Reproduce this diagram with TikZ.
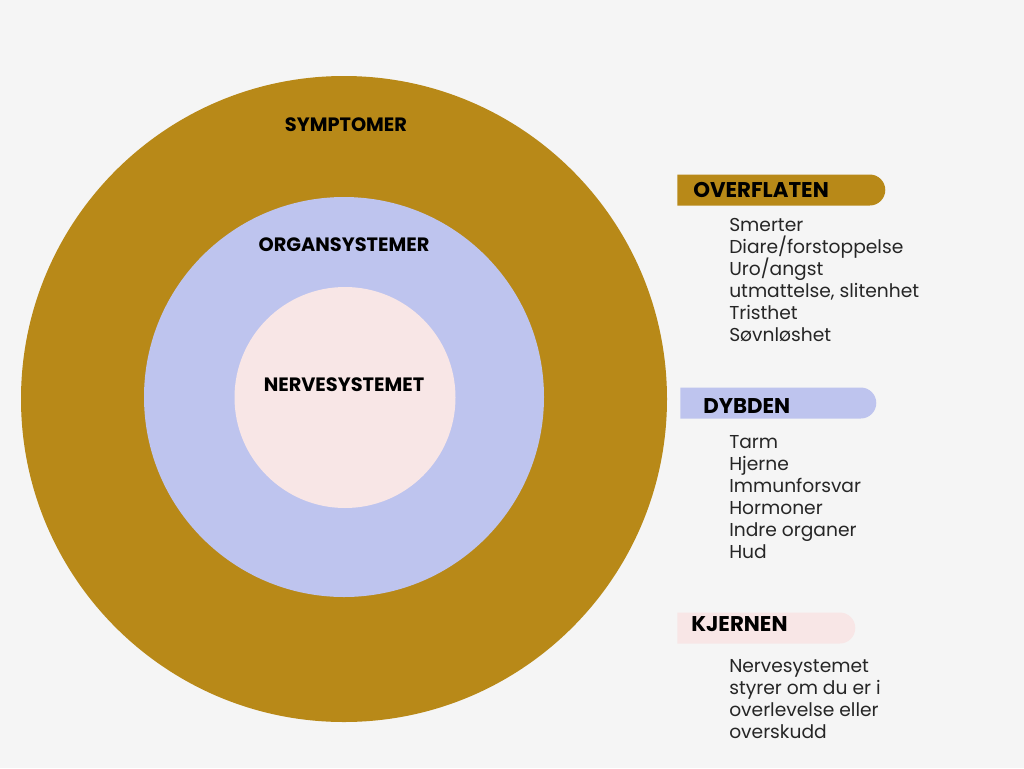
\documentclass[tikz,border=0pt]{standalone}
\usepackage{fontspec}
\setmainfont{Poppins}
\usetikzlibrary{shapes.misc}

\definecolor{gold}{HTML}{B88918}
\definecolor{lavender}{HTML}{BEC4EE}
\definecolor{blush}{HTML}{F8E6E6}
\definecolor{paper}{HTML}{F5F5F5}

\begin{document}
\begin{tikzpicture}[
        x=0.75pt, y=-0.75pt,
        ring/.style={circle, inner sep=0pt},
        ringlabel/.style={font=\bfseries\fontsize{14.5}{16}\selectfont, inner sep=0pt},
        tab/.style={rounded rectangle, rounded rectangle left arc=none, inner sep=0pt,
            minimum height=23.25pt, anchor=west},
        heading/.style={anchor=west, inner sep=0pt, font=\bfseries\fontsize{16}{18}\selectfont},
        item/.style={anchor=base west, inner sep=0pt, font=\fontsize{14}{16}\selectfont, text=black!85},
    ]
    \fill[paper] (0,0) rectangle (1024,768);
    % the three rings
    \node[ring, fill=gold, minimum size=484.5pt](outer) at (344,399){};
    \node[ring, fill=lavender, minimum size=300pt](middle) at (344,397){};
    \node[ring, fill=blush, minimum size=165.75pt](inner) at (345,397.5){};
    \node[ringlabel](symptomer) at (346,125){SYMPTOMER};
    \node[ringlabel](organ) at (344,245){ORGANSYSTEMER};
    \node[ringlabel](nerve) at (344,385){NERVESYSTEMET};

    % overflaten
    \node[tab, fill=gold, minimum width=156pt](overflaten) at (677,190){};
    \node[heading](overflatentxt) at ([xshift=12pt]overflaten.west){OVERFLATEN};
    \foreach \t [count=\i] in {Smerter, Diare/forstoppelse, Uro/angst,
            {utmattelse, slitenhet}, Tristhet, Søvnløshet}
        \node[item](over\i) at (729,{231+22*(\i-1)}){\t};

    % dybden
    \node[tab, fill=lavender, minimum width=147pt](dybden) at (680,403){};
    \node[heading](dybdentxt) at (703,406.5){DYBDEN};
    \foreach \t [count=\i] in {Tarm, Hjerne, Immunforsvar, Hormoner, Indre organer, Hud}
        \node[item](dyb\i) at (729,{448+22*(\i-1)}){\t};

    % kjernen
    \node[tab, fill=blush, minimum width=133.5pt](kjernen) at (677,628){};
    \node[heading](kjernentxt) at (691,624.5){KJERNEN};
    \foreach \t [count=\i] in {Nervesystemet, styrer om du er i, overlevelse eller, overskudd}
        \node[item](kjerne\i) at (729,{672+22*(\i-1)}){\t};
\end{tikzpicture}
\end{document}
